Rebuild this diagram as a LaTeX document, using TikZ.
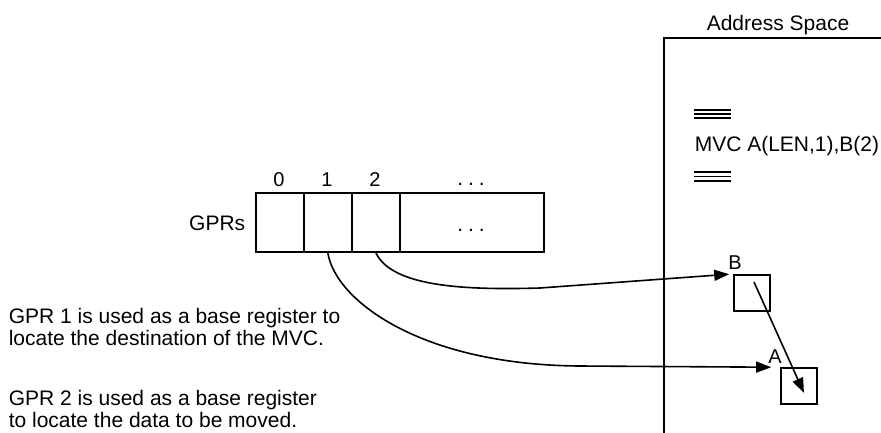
\documentclass[tikz,border=0pt]{standalone}
\usepackage{fontspec}
\setmainfont{Liberation Sans}
\usetikzlibrary{arrows.meta}
\begin{document}
\begin{tikzpicture}[x=1pt,y=-1pt,line width=1.6pt,
  txt/.style={inner sep=0pt,font=\fontsize{21}{22}\selectfont},
  lbl/.style={inner sep=0pt,font=\fontsize{20}{22}\selectfont},
  cell/.style={draw,minimum height=59pt,inner sep=0pt,anchor=north west},
  memb/.style={draw,minimum size=36pt,inner sep=0pt},
  arr/.style={-{Triangle[length=15pt,width=11pt]}},
  eqline/.style={line width=1.6pt}]
\useasboundingbox (0,0) rectangle (881,432);
% GPR register row
\node[cell,minimum width=48pt] (c0) at (255,192) {};
\node[cell,minimum width=48pt] (c1) at (303,192) {};
\node[cell,minimum width=48pt] (c2) at (351,192) {};
\node[cell,minimum width=144pt] (c3) at (399,192) {};
\node[txt,anchor=base east] (gprs) at (246,230) {GPRs};
\node[lbl,anchor=base] (n0) at (279,186) {0};
\node[lbl,anchor=base] (n1) at (327,186) {1};
\node[lbl,anchor=base] (n2) at (375,186) {2};
\node[txt,anchor=base] (d1) at (471,185) {.\kern5pt.\kern5pt.};
\node[txt,anchor=base] (d2) at (471,231) {.\kern5pt.\kern5pt.};
% explanatory text
\node[txt,anchor=base west] (t1) at (8,323) {GPR 1 is used as a base register to};
\node[txt,anchor=base west] (t2) at (8,345) {locate the destination of the MVC.};
\node[txt,anchor=base west] (t3) at (8,405) {GPR 2 is used as a base register};
\node[txt,anchor=base west] (t4) at (8,427) {to locate the data to be moved.};
% address space
\node[txt,anchor=base] (as) at (778,30) {Address Space};
\draw (884,38) -- (664,38) -- (664,436);
\draw[eqline] (694,110) -- (731,110);
\draw[eqline] (694,114) -- (731,114);
\draw[eqline] (694,118) -- (731,118);
\node[txt,anchor=base west] (mvc) at (694,151) {MVC A(LEN,1),B(2)};
\draw[eqline] (694,172) -- (731,172);
\draw[eqline] (694,176.5) -- (731,176.5);
\draw[eqline] (694,181) -- (731,181);
% memory operands
\node[memb] (bbox) at (752,293) {};
\node[memb] (abox) at (799,386) {};
\node[lbl,anchor=base] (bl) at (735,269) {B};
\node[lbl,anchor=base] (al) at (775,363) {A};
% connectors
\draw[arr] (c2.south) .. controls (392,288) and (470,290) .. (540,288) -- ([xshift=-4pt]bbox.north west);
\draw[arr] (c1.south) .. controls (335,300) and (420,365) .. (580,366) -- ([xshift=-9pt]abox.north west);
\draw[arr] ([shift={(2,-11)}]bbox.center) -- ([shift={(5,7)}]abox.center);
\end{tikzpicture}
\end{document}
